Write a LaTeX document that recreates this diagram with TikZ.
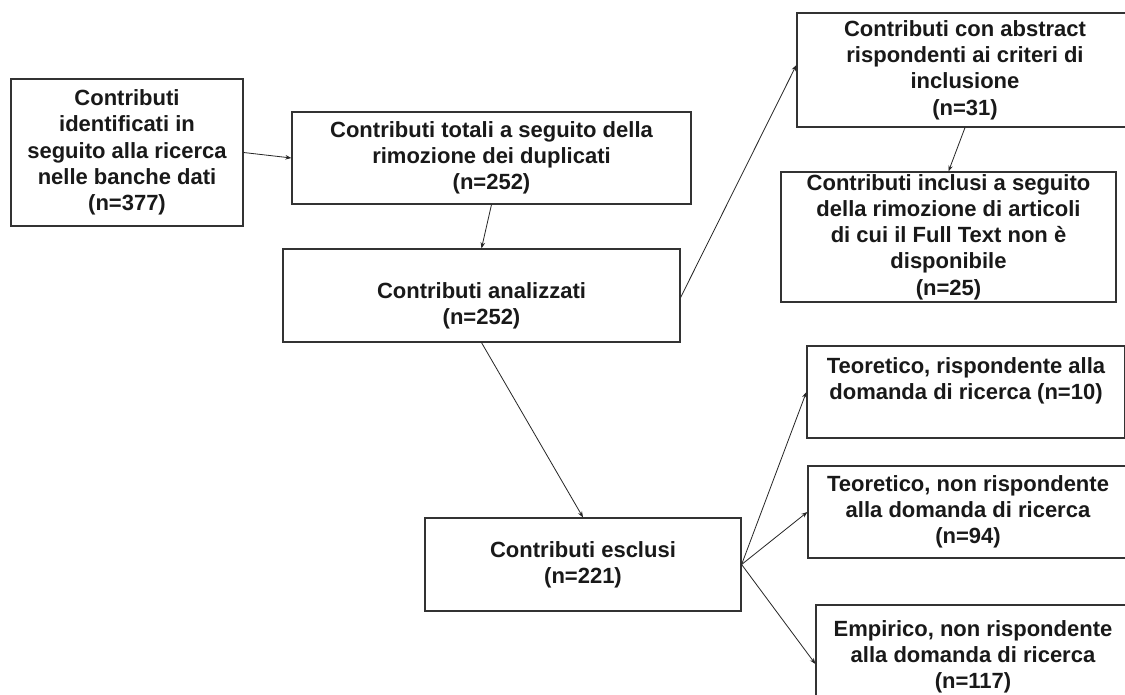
\documentclass[tikz,border=0pt]{standalone}
\usepackage{fontspec}
\setmainfont{Liberation Sans}
\usetikzlibrary{arrows.meta}
\begin{document}
\begin{tikzpicture}[x=1pt,y=-1pt,
  box/.style={draw=black!80, line width=1.2pt, rectangle, inner sep=0pt, align=center,
    font=\fontsize{22}{26.3}\selectfont\bfseries, text=black!90},
  conn/.style={draw=black!85, line width=0.8pt, -{Stealth[length=6pt,width=4.5pt]}}]
\useasboundingbox (0,0) rectangle (1125,695);
\clip (0,0) rectangle (1125,695);
\fill[white] (0,0) rectangle (1125,695);

\node[box, minimum width=232pt, minimum height=147pt] (A) at (127,152.5)
  {Contributi\\identificati in\\seguito alla ricerca\\nelle banche dati\\(n=377)};
\node[box, minimum width=399pt, minimum height=92pt] (B) at (491.5,158)
  {Contributi totali a seguito della\\rimozione dei duplicati\\(n=252)};
\node[box, minimum width=397pt, minimum height=93pt] (C) at (481.5,295.5)
  {\rule{0pt}{36pt}Contributi analizzati\\(n=252)};
\node[box, minimum width=336pt, minimum height=114pt] (D) at (965,70)
  {Contributi con abstract\\rispondenti ai criteri di\\inclusione\\(n=31)};
\node[box, minimum width=335pt, minimum height=130pt] (E) at (948.5,237)
  {Contributi inclusi a seguito\\della rimozione di articoli\\di cui il Full Text non è\\disponibile\\(n=25)};
\node[box, minimum width=318pt, minimum height=92pt] (F) at (966,392)
  {Teoretico, rispondente alla\\domanda di ricerca (n=10)\\\mbox{}};
\node[box, minimum width=320pt, minimum height=92pt] (G) at (968,512)
  {Teoretico, non rispondente\\alla domanda di ricerca\\(n=94)};
\node[box, minimum width=316pt, minimum height=93pt] (H) at (583,564.5)
  {Contributi esclusi\\(n=221)};
\node[box, minimum width=314pt, minimum height=104pt] (I) at (973,657)
  {Empirico, non rispondente\\alla domanda di ricerca\\(n=117)};

\draw[conn] (A.east) -- (B.west);
\draw[conn] (B.south) -- (C.north);
\draw[conn] ([yshift=-2pt]C.east) -- ([yshift=5pt]D.west);
\draw[conn] (D.south) -- (E.north);
\draw[conn] (C.south) -- (H.north);
\draw[conn] (H.east) -- (F.west);
\draw[conn] (H.east) -- (G.west);
\draw[conn] (H.east) -- ([yshift=-7pt]I.west);
\end{tikzpicture}
\end{document}
